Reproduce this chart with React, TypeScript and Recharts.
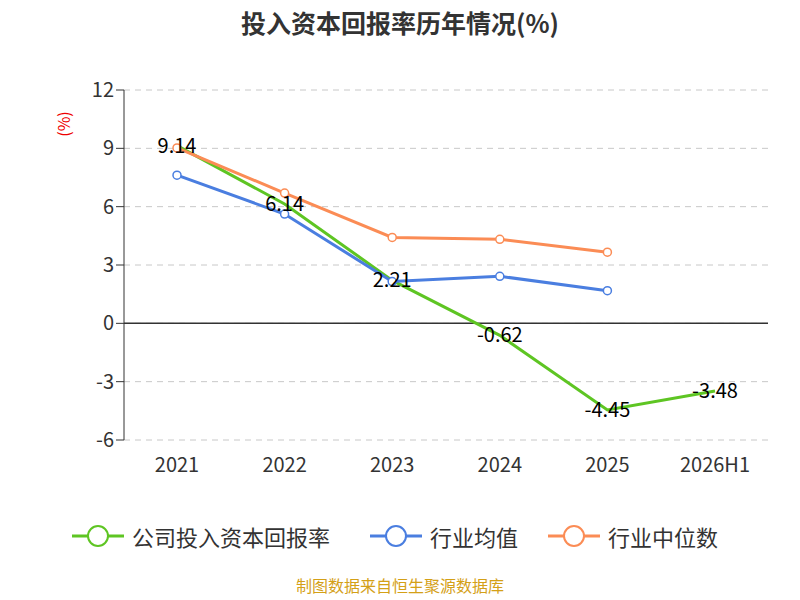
import { LineChart, Line, XAxis, YAxis, CartesianGrid, ReferenceLine, LabelList } from 'recharts';

const years = ['2021', '2022', '2023', '2024', '2025', '2026H1'];
const company = [9.14, 6.14, 2.21, -0.62, -4.45, -3.48];
const industryAvg = [7.62, 5.62, 2.15, 2.42, 1.68, null];
const industryMedian = [9.02, 6.7, 4.42, 4.32, 3.66, null];
const yTicks = [-6, -3, 0, 3, 6, 9, 12];

const data = years.map((year, i) => ({
  year,
  company: company[i],
  avg: industryAvg[i],
  median: industryMedian[i],
}));

const font = '"Noto Sans CJK SC", "Noto Sans", sans-serif';

const legendItems = [
  { name: '公司投入资本回报率', color: '#5ec523', x: 72 },
  { name: '行业均值', color: '#4a7ee0', x: 370 },
  { name: '行业中位数', color: '#fb8c55', x: 548 },
];

export default function App() {
  return (
    <div style={{ position: 'absolute', left: 0, top: 0, width: 800, height: 600, background: '#fff', fontFamily: font, overflow: 'hidden' }}>
      <div style={{ position: 'absolute', top: 4, width: 800, textAlign: 'center', fontSize: 25, fontWeight: 'bold', color: '#333' }}>
        投入资本回报率历年情况(%)
      </div>
      <div style={{ position: 'absolute', left: 50, top: 112, color: '#e00', fontSize: 16, transform: 'rotate(-90deg)' }}>(%)</div>
      <LineChart width={800} height={600} data={data} margin={{ top: 90, right: 32, left: 64, bottom: 130 }}>
        <CartesianGrid vertical={false} stroke="#c8c8c8" strokeDasharray="6 5" />
        <XAxis
          dataKey="year"
          axisLine={false}
          tickLine={false}
          padding={{ left: 53, right: 53 }}
          tick={{ fontSize: 20, fill: '#333', fontFamily: font }}
          dy={10}
        />
        <YAxis
          domain={[-6, 12]}
          ticks={yTicks}
          width={60}
          stroke="#333"
          tickSize={8}
          tick={{ fontSize: 20, fill: '#333', fontFamily: font }}
        />
        <ReferenceLine y={0} stroke="#333" strokeWidth={1.5} />
        <Line dataKey="company" stroke="#5ec523" strokeWidth={3} dot={false} isAnimationActive={false}>
          <LabelList dataKey="company" position="center" fill="#000" fontSize={20} fontFamily={font} />
        </Line>
        <Line dataKey="avg" stroke="#4a7ee0" strokeWidth={3} dot={{ r: 4, fill: '#fff', strokeWidth: 1.5 }} isAnimationActive={false} />
        <Line dataKey="median" stroke="#fb8c55" strokeWidth={3} dot={{ r: 4, fill: '#fff', strokeWidth: 1.5 }} isAnimationActive={false} />
      </LineChart>
      {legendItems.map((it) => (
        <div key={it.name} style={{ position: 'absolute', left: it.x, top: 520, display: 'flex', alignItems: 'center', fontSize: 22, color: '#333' }}>
          <svg width={52} height={30} style={{ marginRight: 8 }}>
            <line x1={0} y1={15} x2={52} y2={15} stroke={it.color} strokeWidth={3} />
            <circle cx={26} cy={15} r={10} fill="#fff" stroke={it.color} strokeWidth={2} />
          </svg>
          {it.name}
        </div>
      ))}
      <div style={{ position: 'absolute', top: 575, width: 800, textAlign: 'center', fontSize: 16, lineHeight: '20px', color: '#d4a017' }}>
        制图数据来自恒生聚源数据库
      </div>
    </div>
  );
}
